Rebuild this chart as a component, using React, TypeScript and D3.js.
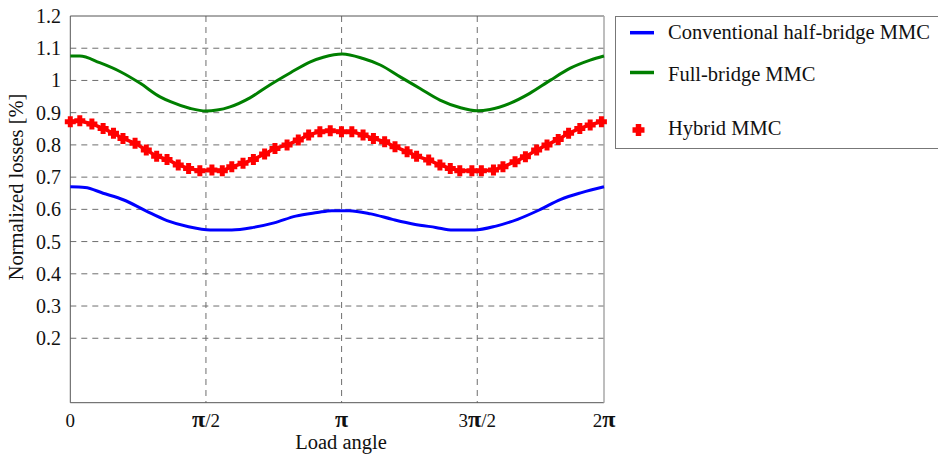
import * as d3 from 'd3'

// angles in radians, values in %
const greenAngles = [0, 0.11, 0.34, 0.58, 0.81, 1.04, 1.16, 1.39, 1.57, 1.70, 1.85, 2.08, 2.31, 2.55, 2.78, 2.93, 3.15, 3.39, 3.59, 3.82, 4.05, 4.28, 4.51, 4.71, 4.86, 5.09, 5.32, 5.56, 5.79, 6.02, 6.18]
const greenValues = [1.076, 1.076, 1.055, 1.027, 0.991, 0.949, 0.934, 0.913, 0.905, 0.908, 0.918, 0.946, 0.986, 1.024, 1.058, 1.072, 1.082, 1.068, 1.048, 1.011, 0.975, 0.939, 0.916, 0.906, 0.910, 0.929, 0.960, 1.001, 1.038, 1.063, 1.076]

const blueAngles = [0, 0.17, 0.38, 0.62, 0.87, 1.12, 1.37, 1.62, 1.87, 2.12, 2.36, 2.61, 2.86, 3.03, 3.23, 3.48, 3.73, 3.98, 4.23, 4.43, 4.68, 4.93, 5.18, 5.43, 5.68, 5.92, 6.18]
const blueValues = [0.670, 0.668, 0.650, 0.629, 0.596, 0.565, 0.546, 0.536, 0.536, 0.544, 0.558, 0.579, 0.590, 0.596, 0.596, 0.586, 0.569, 0.554, 0.544, 0.536, 0.536, 0.548, 0.569, 0.598, 0.631, 0.652, 0.670]

const redAngles = [0, 0.11, 0.25, 0.38, 0.50, 0.61, 0.75, 0.88, 1.00, 1.12, 1.25, 1.37, 1.50, 1.64, 1.76, 1.87, 2.00, 2.12, 2.25, 2.37, 2.51, 2.64, 2.76, 2.89, 3.01, 3.14, 3.26, 3.39, 3.51, 3.64, 3.76, 3.90, 4.01, 4.15, 4.28, 4.40, 4.51, 4.65, 4.76, 4.90, 5.01, 5.15, 5.27, 5.40, 5.52, 5.65, 5.77, 5.90, 6.02, 6.15]
const redValues = [0.872, 0.875, 0.865, 0.851, 0.836, 0.820, 0.805, 0.784, 0.765, 0.755, 0.738, 0.727, 0.720, 0.722, 0.720, 0.732, 0.743, 0.755, 0.772, 0.789, 0.800, 0.815, 0.831, 0.841, 0.844, 0.841, 0.841, 0.831, 0.820, 0.810, 0.794, 0.779, 0.765, 0.753, 0.738, 0.727, 0.720, 0.720, 0.720, 0.722, 0.732, 0.748, 0.763, 0.784, 0.800, 0.817, 0.836, 0.851, 0.862, 0.872]

const yTicks = [0.2, 0.3, 0.4, 0.5, 0.6, 0.7, 0.8, 0.9, 1, 1.1, 1.2]
const xTicks = [0, Math.PI / 2, Math.PI, (3 * Math.PI) / 2, 6.18]
const xTickLabels = ['0', 'π/2', 'π', '3π/2', '2π']

const legendItems = [
  { label: 'Conventional half-bridge MMC', color: '#0000ff', kind: 'line' },
  { label: 'Full-bridge MMC', color: '#007f00', kind: 'line' },
  { label: 'Hybrid MMC', color: '#ff0000', kind: 'marker' },
]

const FONT = 'Liberation Serif'

type P = [number, number]

export default function App() {
  const x = d3.scaleLinear().domain([0, 6.18]).range([70.3, 604])
  const y = d3.scaleLinear().domain([0, 1.2]).range([402.7, 16])
  const [x0, x1] = x.range()
  const [yb, yt] = y.range()

  const smooth = d3.line<P>().x(d => x(d[0])).y(d => y(d[1])).curve(d3.curveMonotoneX)
  const straight = d3.line<P>().x(d => x(d[0])).y(d => y(d[1]))

  const green: P[] = greenAngles.map((a, i) => [a, greenValues[i]])
  const blue: P[] = blueAngles.map((a, i) => [a, blueValues[i]])
  const red: P[] = redAngles.map((a, i) => [a, redValues[i]])
  const redLine: P[] = [...red, [6.18, 0.875]]

  const plus = (cx: number, cy: number, s: number) =>
    `M${cx - s},${cy}H${cx + s}M${cx},${cy - s}V${cy + s}`

  const legendY = [32.7, 72.5, 130]
  const legendBase = [39.3, 81, 135]

  return (
    <svg
      width={938}
      height={455}
      style={{ position: 'absolute', left: 0, top: 0, background: '#fff' }}
    >
      {/* grid */}
      {yTicks.filter(t => t < 1.15).map(t => (
        <line key={t} x1={x0} x2={x1} y1={y(t)} y2={y(t)} stroke="#6e6e6e" strokeWidth={1} strokeDasharray="6,5" />
      ))}
      {xTicks.slice(1, 4).map(t => (
        <line key={t} x1={x(t)} x2={x(t)} y1={yt} y2={yb} stroke="#6e6e6e" strokeWidth={1} strokeDasharray="6,5" />
      ))}

      {/* frame */}
      <path d={`M${x1},${yt}H${x0}V${yb}H${x1}`} fill="none" stroke="#555" strokeWidth={1} />
      <line x1={x1} x2={x1} y1={yt} y2={yb} stroke="#a8a8a8" strokeWidth={1.5} />

      {/* y tick labels */}
      {yTicks.map(t => (
        <text key={t} x={61} y={y(t)} dy="0.35em" textAnchor="end" fontSize={20} fill="#111" fontFamily={FONT}>
          {d3.format('')(t)}
        </text>
      ))}

      {/* x tick labels */}
      {xTicks.map((t, i) => (
        <text key={i} x={x(t)} y={427} textAnchor="middle" fontSize={19} fill="#111" fontFamily={FONT}>
          {xTickLabels[i].split('').map((c, j) =>
            c === 'π' ? (
              <tspan key={j} fontSize={24} fontWeight="bold">π</tspan>
            ) : (
              <tspan key={j}>{c}</tspan>
            )
          )}
        </text>
      ))}

      {/* axis titles */}
      <text x={341} y={449} textAnchor="middle" fontSize={20.5} fill="#111" fontFamily={FONT}>Load angle</text>
      <text transform="translate(23,187) rotate(-90)" textAnchor="middle" fontSize={20.5} fill="#111" fontFamily={FONT}>
        Normalized losses [%]
      </text>

      {/* series */}
      <path d={smooth(green) ?? ''} fill="none" stroke="#007f00" strokeWidth={3} />
      <path d={smooth(blue) ?? ''} fill="none" stroke="#0000ff" strokeWidth={3} />
      <path d={straight(redLine) ?? ''} fill="none" stroke="#ff0000" strokeWidth={3.5} />
      {red.map((p, i) => (
        <path key={i} d={plus(x(p[0]), y(p[1]), 5.5)} stroke="#ff0000" strokeWidth={5} fill="none" />
      ))}

      {/* legend */}
      <rect x={615.5} y={16.5} width={340} height={132} fill="#fff" stroke="#777" strokeWidth={1} />
      {legendItems.map((it, i) => (
        <g key={it.label}>
          {it.kind === 'line' ? (
            <line x1={630} x2={654} y1={legendY[i]} y2={legendY[i]} stroke={it.color} strokeWidth={3.5} />
          ) : (
            <path d={plus(638.5, legendY[i], 6)} stroke={it.color} strokeWidth={5.5} fill="none" />
          )}
          <text x={668} y={legendBase[i]} fontSize={20.5} fill="#111" fontFamily={FONT}>{it.label}</text>
        </g>
      ))}
    </svg>
  )
}
